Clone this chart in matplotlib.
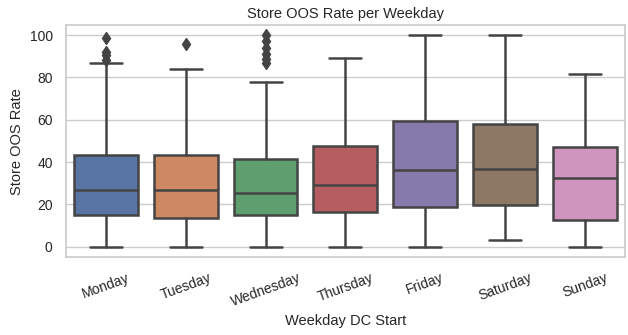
import matplotlib
matplotlib.use("Agg")
import matplotlib.pyplot as plt
import seaborn as sns

# summary stats per weekday
days = ["Monday", "Tuesday", "Wednesday", "Thursday", "Friday", "Saturday", "Sunday"]
q1 = [14.8, 13.4, 14.8, 16.2, 18.7, 19.8, 12.4]
med = [26.6, 26.6, 25.3, 29.2, 36.3, 36.8, 32.4]
q3 = [43.4, 43.4, 41.4, 47.4, 59.4, 58.0, 47.2]
whislo = [0, 0, 0, 0, 0, 3.0, 0]
whishi = [86.8, 84.2, 77.6, 89.4, 100, 100, 81.6]
fliers = [
    [98.5, 92.0, 90.5, 88.0],
    [96.0],
    [100.0, 97.0, 94.0, 91.0, 88.5, 87.0],
    [], [], [], [],
]

sns.set_theme(style="whitegrid")
plt.rcParams["font.family"] = ["Liberation Sans", "DejaVu Sans"]

colors = sns.color_palette("deep", 7, desat=0.75)
line_col = "#444444"

stats = []
for i in range(len(days)):
    stats.append(dict(label=days[i], q1=q1[i], med=med[i], q3=q3[i],
                      whislo=whislo[i], whishi=whishi[i], fliers=fliers[i]))

fig = plt.figure(figsize=(6.28, 3.35), dpi=100)
ax = fig.add_axes([0.105, 0.232, 0.89, 0.693])

bp = ax.bxp(stats, positions=range(len(days)), widths=0.8, patch_artist=True,
            boxprops=dict(linewidth=1.8, edgecolor=line_col),
            medianprops=dict(color=line_col, linewidth=1.8),
            whiskerprops=dict(color=line_col, linewidth=1.8),
            capprops=dict(color=line_col, linewidth=1.8),
            flierprops=dict(marker="d", markerfacecolor=line_col,
                            markeredgecolor=line_col, markersize=6))
for patch, c in zip(bp["boxes"], colors):
    patch.set_facecolor(c)

ax.set_xlim(-0.5, 6.5)
ax.set_ylim(-5, 104.7)
ax.set_yticks([0, 20, 40, 60, 80, 100])
ax.set_xticks(range(len(days)))
ax.set_xticklabels(days, rotation=20, fontsize=10)
ax.tick_params(axis="y", labelsize=10)
ax.set_title("Store OOS Rate per Weekday", fontsize=10.5, pad=5)
ax.set_xlabel("Weekday DC Start", fontsize=10.5)
ax.set_ylabel("Store OOS Rate", fontsize=10.5)
ax.grid(axis="x", visible=False)

fig.savefig("out.png", dpi=100)
